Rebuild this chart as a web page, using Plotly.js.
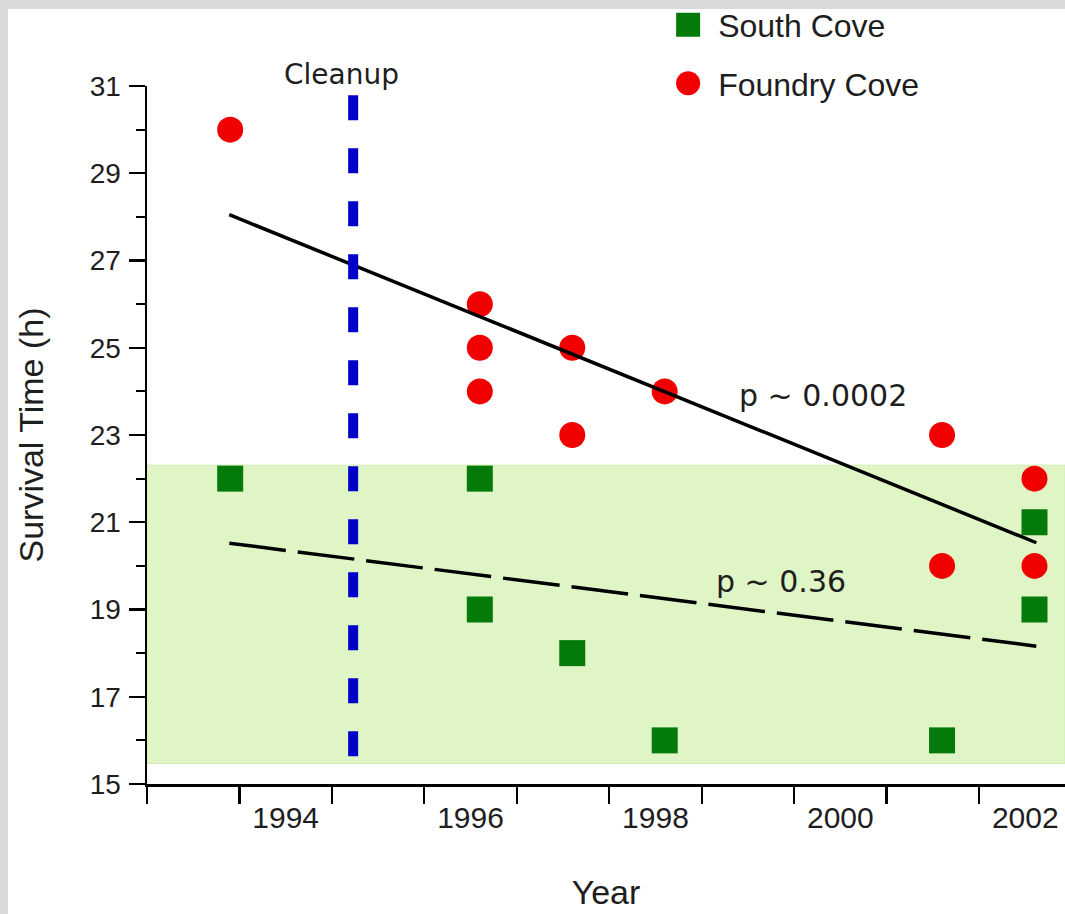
<!DOCTYPE html>
<html><head><meta charset="utf-8">
<script src="https://cdn.plot.ly/plotly-3.0.1.min.js"></script>
<style>
html,body{margin:0;padding:0;width:1065px;height:914px;overflow:hidden;background:#d9d9d9;}
#chart{position:absolute;left:8px;top:9px;width:1057px;height:905px;background:#fff;}
</style></head><body><div id="chart"></div>
<script>
// ---- data ----
const southYears = [1993.4, 1996.1, 1996.1, 1997.1, 1998.1, 2001.1, 2002.1, 2002.1];
const southTimes = [22, 22, 19, 18, 16, 16, 21, 19];
const foundryYears = [1993.4, 1996.1, 1996.1, 1996.1, 1997.1, 1997.1, 1998.1, 2001.1, 2001.1, 2002.1, 2002.1];
const foundryTimes = [30, 26, 25, 24, 25, 23, 24, 23, 20, 22, 20];
const fitYears = [1993.39, 2002.12];
const foundryFit = [28.05, 20.53];
const southFit = [20.52, 18.16];
const cleanupYear = [1994.73, 1994.73];
const cleanupSpan = [30.79, 15.51];
const bandRange = [15.47, 22.31];
const yearTicks = [1994, 1996, 1998, 2000, 2002];
const yearTickLabels = ['1994', '1996', '1998', '2000', '2002'];
const pLabels = ['p ~ 0.0002', 'p ~ 0.36'];
const pLabelPos = [[1999.81, 23.9], [1999.36, 19.65]];

const txt = '#1e1e1e';
const sans = 'Liberation Sans, Arial, sans-serif';
const geneva = 'DejaVu Sans, Verdana, sans-serif';

const traces = [
  {x: southYears, y: southTimes, type: 'scatter', mode: 'markers', name: 'South Cove',
   marker: {symbol: 'square', size: 26, color: '#037a0a'}, legend: 'legend', cliponaxis: false},
  {x: foundryYears, y: foundryTimes, type: 'scatter', mode: 'markers', name: 'Foundry Cove',
   marker: {symbol: 'circle', size: 26, color: '#f00000'}, legend: 'legend2', cliponaxis: false},
  {x: fitYears, y: foundryFit, type: 'scatter', mode: 'lines', showlegend: false,
   line: {color: '#000', width: 3.5}},
  {x: fitYears, y: southFit, type: 'scatter', mode: 'lines', showlegend: false,
   line: {color: '#000', width: 3.5, dash: '57px,12px'}},
  {x: cleanupYear, y: cleanupSpan, type: 'scatter', mode: 'lines', showlegend: false,
   line: {color: '#0000c8', width: 10, dash: '25px,28px'}}
];

const legendX = (650 - 138.7) / 918.3;

const layout = {
  width: 1057, height: 905,
  margin: {l: 138.7, r: 0, t: 77, b: 130, pad: 0, autoexpand: false},
  paper_bgcolor: '#ffffff', plot_bgcolor: '#ffffff',
  showlegend: true,
  font: {family: sans, color: txt},
  xaxis: {
    range: [1992.5, 2002.43], showgrid: false, zeroline: false,
    showline: true, linecolor: '#000', linewidth: 2.5,
    tickmode: 'array', tickvals: yearTicks, ticktext: yearTickLabels,
    ticks: 'outside', ticklen: 5, tickcolor: 'rgba(0,0,0,0)', tickwidth: 2,
    tickfont: {size: 30, family: sans, color: txt},
    minor: {tickmode: 'linear', tick0: 1992.5, dtick: 1, ticks: 'outside', ticklen: 17, tickwidth: 2.2, tickcolor: '#000', showgrid: false},
    title: {text: 'Year', font: {size: 34, family: sans, color: txt}, standoff: 48},
    automargin: false
  },
  yaxis: {
    range: [15, 31], showgrid: false, zeroline: false,
    showline: true, linecolor: '#000', linewidth: 2.5,
    tick0: 15, dtick: 2,
    ticks: 'outside', ticklen: 16, tickwidth: 2.2, tickcolor: '#000',
    ticklabelstandoff: 2,
    tickfont: {size: 28, family: sans, color: txt},
    minor: {tick0: 15, dtick: 1, ticks: 'outside', ticklen: 9, tickwidth: 2.2, tickcolor: '#000', showgrid: false},
    title: {text: 'Survival Time (h)', font: {size: 34, family: sans, color: txt}, standoff: 36},
    automargin: false
  },
  legend: {x: legendX, xanchor: 'left', y: 1 + 61 / 698, yanchor: 'middle', itemwidth: 50,
    bgcolor: 'rgba(0,0,0,0)', borderwidth: 0, font: {size: 32, family: sans, color: txt}},
  legend2: {x: legendX, xanchor: 'left', y: 1 + 2.5 / 698, yanchor: 'middle', itemwidth: 50,
    bgcolor: 'rgba(0,0,0,0)', borderwidth: 0, font: {size: 32, family: sans, color: txt}},
  shapes: [
    {type: 'rect', layer: 'below', xref: 'paper', yref: 'y', x0: 0, x1: 1, y0: bandRange[0], y1: bandRange[1],
     fillcolor: '#e0f5c6', line: {width: 1, color: '#d3ecb6'}}
  ],
  annotations: [
    {text: 'Cleanup', xref: 'x', yref: 'paper', x: 1994.6, y: 1 + 12 / 698, xanchor: 'center', yanchor: 'middle',
     showarrow: false, font: {size: 28, family: geneva, color: txt}},
    {text: pLabels[0], xref: 'x', yref: 'y', x: pLabelPos[0][0], y: pLabelPos[0][1], xanchor: 'center', yanchor: 'middle',
     showarrow: false, font: {size: 30, family: geneva, color: txt}},
    {text: pLabels[1], xref: 'x', yref: 'y', x: pLabelPos[1][0], y: pLabelPos[1][1], xanchor: 'center', yanchor: 'middle',
     showarrow: false, font: {size: 30, family: geneva, color: txt}}
  ]
};

Plotly.newPlot('chart', traces, layout, {displayModeBar: false, staticPlot: true}).then(function (gd) {
  // enlarge legend symbols (both legends) to match the reference's bigger key markers
  gd.querySelectorAll('.legendpoints path.scatterpts').forEach(function (p) {
    var t = p.getAttribute('transform') || '';
    p.setAttribute('transform', t + ' scale(1.5)');
  });
});
</script></body></html>
